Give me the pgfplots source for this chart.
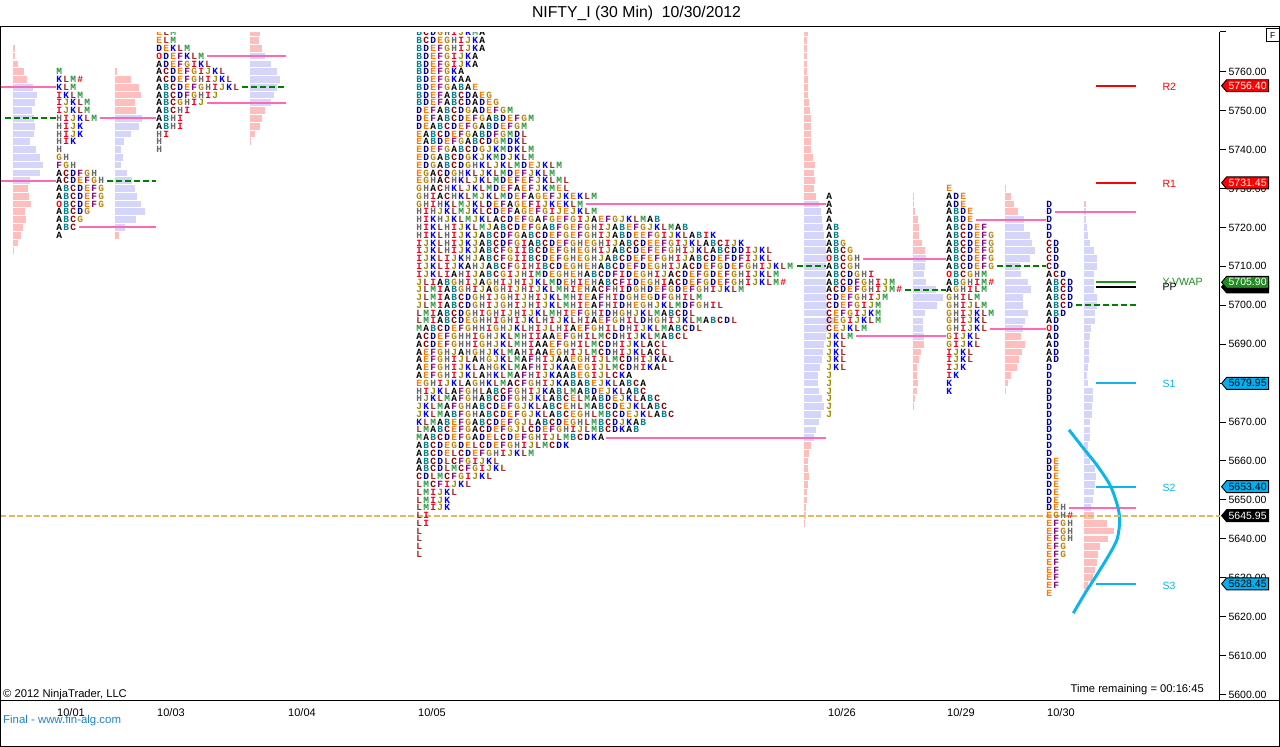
\documentclass[border=0pt]{standalone}
\usepackage{fontspec}
\setmainfont{Liberation Sans}
\newfontfamily\tpofont{Liberation Mono}
\usepackage{pgfplots}
\pgfplotsset{compat=1.18}
\usetikzlibrary{shapes.symbols}

% letter colours of the TPO rows
\definecolor{tpoA}{RGB}{0,0,0}
\definecolor{tpoB}{RGB}{0,128,138}
\definecolor{tpoC}{RGB}{139,0,0}
\definecolor{tpoD}{RGB}{0,0,139}
\definecolor{tpoE}{RGB}{245,120,0}
\definecolor{tpoF}{RGB}{128,0,128}
\definecolor{tpoG}{RGB}{184,134,11}
\definecolor{tpoH}{RGB}{105,105,105}
\definecolor{tpoI}{RGB}{240,0,30}
\definecolor{tpoJ}{RGB}{160,140,0}
\definecolor{tpoK}{RGB}{0,0,245}
\definecolor{tpoL}{RGB}{165,42,42}
\definecolor{tpoM}{RGB}{40,150,60}
\definecolor{tpoO}{RGB}{255,0,0}
\definecolor{pk}{RGB}{255,190,190}
\definecolor{lav}{RGB}{213,213,250}
\definecolor{hot}{RGB}{255,105,180}
\definecolor{grn}{RGB}{0,128,0}
\definecolor{gld}{RGB}{225,185,95}
\definecolor{cyn}{RGB}{15,180,235}
\definecolor{tagc}{RGB}{0,176,240}
\definecolor{taggr}{RGB}{34,139,34}

% X in the tables stands for the # mark
\newcommand\tpoch[1]{\ifx#1X\makebox[7pt]{\textcolor{red}{\#}}\else\makebox[7pt]{\textcolor{tpo#1}{#1}}\fi}
\def\tpoloop#1{\ifx#1\relax\else\tpoch{#1}\expandafter\tpoloop\fi}
\newcommand\tporow{\edef\tpotmp{\pgfplotspointmeta}\expandafter\tpoloop\tpotmp\relax}

\pgfplotsset{
  /pgfplots/table/tab/.style={y index=0,header=false,row sep=\\},
  prof/.style={draw=none,mark=none,error bars/.cd,x dir=plus,x explicit,error mark=none,
    error bar style={line width=6.7pt,color=#1,solid}},
  tpo/.style={draw=none,mark=none,point meta=explicit symbolic,nodes near coords={\tporow},
    every node near coord/.style={anchor=west,inner sep=0pt,outer sep=0pt,
      font=\tpofont\bfseries\fontsize{9.5}{10}\selectfont}},
  vah/.style={hot,line width=2pt,mark=none},
  poc/.style={grn,line width=2pt,mark=none,dash pattern=on 6pt off 3pt},
  lvl/.style={#1,line width=1.8pt,mark=none},
  tag/.style 2 args={draw=none,mark=none,point meta=y,
    nodes near coords={\pgfmathprintnumber[fixed,fixed zerofill,precision=2,1000 sep={},assume math mode=true]{\pgfplotspointmeta}},
    every node near coord/.style={shape=signal,signal to=west,signal pointer angle=100,draw=black,line width=0.9pt,
      fill=#1,text=#2,anchor=west,inner sep=0pt,minimum width=47pt,minimum height=12pt,
      font=\fontsize{10.5}{12}\selectfont}},
}

\begin{document}
\begin{tikzpicture}
\begin{axis}[
    at={(0pt,46pt)},anchor=south west,
    scale only axis,width=1219.5pt,height=669pt,
    xmin=0,xmax=1219.5,ymin=5598.35,ymax=5770.2,
    clip=false,
    axis y line=right,axis x line=bottom,axis line style={-,line width=1pt},
    xtick={71,171,302,432,842,961,1061},
    xticklabels={10/01,10/03,10/04,10/05,10/26,10/29,10/30},
    xtick style={draw=none},
    xticklabel style={font=\fontsize{11}{12}\selectfont,yshift=3pt},
    ytick={5600,5610,...,5760},
    ytick style={line width=1pt,black},
    tick align=outside,major tick length=6.5pt,
    scaled y ticks=false,
    yticklabel style={font=\fontsize{10.5}{12}\selectfont,xshift=-1pt,
      /pgf/number format/fixed,/pgf/number format/fixed zerofill,/pgf/number format/precision=2,
      /pgf/number format/1000 sep={},/pgf/number format/assume math mode=true},
    set layers=standard,
]
% volume bars: price, length
\addplot[prof=pk] table[x expr=13,tab,x error index=1]{5766 2\\5764 2\\5762 5\\5760 11\\5758 14\\5730 15\\5728 16\\5726 18\\5724 12\\5722 13\\5720 10\\5718 8\\5716 5\\5714 1\\};
\addplot[prof=lav] table[x expr=13,tab,x error index=1]{5756 20\\5754 24\\5752 22\\5750 19\\5748 21\\5746 22\\5744 21\\5742 17\\5740 23\\5738 27\\5736 30\\5734 27\\5732 17\\};
\addplot[prof=pk] table[x expr=115,tab,x error index=1]{5760 2\\5758 16\\5756 24\\5754 26\\5752 20\\5750 21\\5718 4\\};
\addplot[prof=lav] table[x expr=115,tab,x error index=1]{5748 27\\5746 24\\5744 16\\5742 9\\5740 6\\5738 8\\5736 6\\5734 12\\5732 17\\5730 20\\5728 22\\5726 26\\5724 30\\5722 21\\5720 10\\};
\addplot[prof=pk] table[x expr=250,tab,x error index=1]{5770 10\\5768 9\\5766 12\\5750 15\\5748 12\\5746 10\\5744 5\\5742 1\\};
\addplot[prof=lav] table[x expr=250,tab,x error index=1]{5764 15\\5762 21\\5760 27\\5758 30\\5756 27\\5754 24\\5752 21\\};
\addplot[prof=pk] table[x expr=804,tab,x error index=1]{5770 4\\5768 3\\5766 3\\5764 3\\5762 3\\5760 3\\5758 4\\5756 4\\5754 4\\5752 5\\5750 6\\5748 7\\5746 7\\5744 7\\5742 7\\5740 7\\5738 9\\5736 11\\5734 10\\5732 11\\5730 10\\5728 12\\5664 7\\5662 5\\5660 4\\5658 4\\5656 5\\5654 4\\5652 3\\5650 3\\5648 2\\5646 2\\5644 1\\};
\addplot[prof=lav] table[x expr=804,tab,x error index=1]{5726 15\\5724 17\\5722 18\\5720 19\\5718 20\\5716 22\\5714 22\\5712 23\\5710 22\\5708 22\\5706 22\\5704 22\\5702 22\\5700 23\\5698 23\\5696 30\\5694 23\\5692 22\\5690 20\\5688 19\\5686 18\\5684 16\\5682 14\\5680 14\\5678 15\\5676 18\\5674 20\\5672 17\\5670 15\\5668 12\\5666 10\\};
\addplot[prof=pk] table[x expr=913,tab,x error index=1]{5728 1\\5726 1\\5724 2\\5722 5\\5720 6\\5718 6\\5716 9\\5714 12\\5690 11\\5688 8\\5686 6\\5684 4\\5682 4\\5680 5\\5678 4\\5676 2\\5674 1\\};
\addplot[prof=lav] table[x expr=913,tab,x error index=1]{5712 13\\5710 12\\5708 11\\5706 13\\5704 23\\5702 30\\5700 24\\5698 12\\5696 10\\5694 10\\5692 11\\};
\addplot[prof=pk] table[x expr=1005,tab,x error index=1]{5730 1\\5728 6\\5726 9\\5724 13\\5692 16\\5690 20\\5688 17\\5686 14\\5684 12\\5682 6\\5680 3\\5678 1\\};
\addplot[prof=lav] table[x expr=1005,tab,x error index=1]{5722 19\\5720 19\\5718 25\\5716 27\\5714 30\\5712 25\\5710 15\\5708 16\\5706 23\\5704 26\\5702 18\\5700 18\\5698 23\\5696 20\\5694 18\\};
\addplot[prof=pk] table[x expr=1084,tab,x error index=1]{5726 2\\5646 10\\5644 23\\5642 30\\5640 24\\5638 16\\5636 14\\5634 13\\5632 11\\5630 9\\5628 4\\5626 1\\};
\addplot[prof=lav] table[x expr=1084,tab,x error index=1]{5724 2\\5722 2\\5720 3\\5718 4\\5716 6\\5714 10\\5712 13\\5710 13\\5708 10\\5706 10\\5704 10\\5702 13\\5700 13\\5698 11\\5696 11\\5694 7\\5692 6\\5690 5\\5688 5\\5686 5\\5684 4\\5682 3\\5680 4\\5678 9\\5676 9\\5674 8\\5672 8\\5670 6\\5668 6\\5666 6\\5664 4\\5662 4\\5660 6\\5658 11\\5656 12\\5654 11\\5652 10\\5650 9\\5648 7\\};

% TPO letters: price, row
\addplot[tpo] table[x expr=55.8,tab,meta index=1]{
5760 M\\5758 KLMX\\5756 KLM\\5754 IKLM\\5752 IJKLM\\5750 IJKLM\\5748 HIJKLM\\5746 HIJK\\5744 HIJK\\5742 HIK\\5740 H\\5738 GH\\5736 FGH\\5734 ACDFGH\\5732 ACDEFGH\\5730 ABCDEFG\\5728 ABCDEFG\\5726 OBCDEFG\\5724 ABCDG\\5722 ABCG\\5720 ABC\\5718 A\\};
\addplot[tpo] table[x expr=155.8,tab,meta index=1]{
5770 ELM\\5768 ELM\\5766 DEKLM\\5764 ODEFKLM\\5762 ADEFGIKL\\5760 ACDEFGIJKL\\5758 ACDEFGHIJKL\\5756 ABCDEFGHIJKL\\5754 ABCDFGHIJ\\5752 ABCGHIJ\\5750 ABCHI\\5748 ABHI\\5746 ABHI\\5744 HI\\5742 H\\5740 H\\};
\addplot[tpo] table[x expr=415.8,tab,meta index=1]{
5770 BCDGHIJKMA\\
5768 BCDEGHIJKA\\
5766 BDEFGHIJKA\\
5764 BDEFGIJKA\\
5762 BDEFGIJKA\\
5760 BDEFGKA\\
5758 BDEFGKAA\\
5756 BDEFGABAE\\
5754 BDEFABCDAEG\\
5752 BDEFABCDADEG\\
5750 DEFABCDGADEFGM\\
5748 DEFABCDEFGABDEFGM\\
5746 DEABCDEFGABDEFGM\\
5744 EABCDEFGABDFGMDL\\
5742 EABDEFGABCDGMDKL\\
5740 EDEFGABCDGJKMDKLM\\
5738 EDGABCDGKJKMDJKLM\\
5736 EDGABCDGHKLJKLMDEJKLM\\
5734 EGACDGHKLJKLMDEFJKLM\\
5732 EGHACHKLJKLMDEFEFJKLML\\
5730 GHACHKLJKLMDEFAEFJKMEL\\
5728 GHIACHKLMJKLMDEFAGEFJKEKLM\\
5726 GHIHKLMJKLDEFAGEFIJKEKLM\\
5724 HIHJKLMJKLCDEFAGEFGIJEJKLM\\
5722 HIKHJKLMJKLACDEFGAFGEFGIJAEFGJKLMAB\\
5720 HIKLHIJKLMJABCDEFGABFGEFGHIJABEFGJKLMAB\\
5718 HIKLHIJKJABCDFGABCDEFGEFGHIJABDEEFGIJKLABIK\\
5716 IJKLHIJKJABCDFGIABCDEFGHEGHIJABCDEEFGIJKLABCIJK\\
5714 IJKLHIJKJABCFGIIBCDEFGHEGHIJABCDEFEFGHIJKLABCDDIJKL\\
5712 IJKLIJKHJABCFGIIBCDEFGHEGHJABCDEFEFGHIJABCDEFDFIJKL\\
5710 IJKLIJKAHJABCFGIHIBCDEGHEHABCDEFDEGHIJACDEFGDEFGHIJKLM\\
5708 IJKLIAHIJABCGIJHIMDEGHEHABCDFIDEGHIJACDEFGDEFGHIJKLM\\
5706 JLIABGHIJAGHIJHIJKLMDEHIEHABCFIDEGHIACDEFGDEFGHIJKLMX\\
5704 JLMIABGHIJAGHIJHIJKLMHIEHACFHIDGHDEFGDEFGHIJKLM\\
5702 JLMIABCDGHIJGHIJHIJKLMHIEAFHIDGHEGDFGHILM\\
5700 JLMIABCDGHIJGHIJHIJKLMHIEAFHIDHEGHJKLMDFGHIL\\
5698 LMIABCDGHIGHIJHIJKLMHIEFGHIDHGHJKLMABCDL\\
5696 LMIABCDEGHHIGHIJKLHIJKLHIAEFGHILDHGHIJKLMABCDL\\
5694 MABCDEFGHHIGHJKLHIJLHIAEFGHILDHIJKLMABCDL\\
5692 ACDEFGHHIGHJKLMHIIAAEFGHILMCDHIJKLMABCL\\
5690 ACDEFGHHIGHJKLMHIAAEFGHILMCDHIJKLACL\\
5688 AEFGHJAHGHJKLMAHIAAEGHIJLMCDHIJKLACL\\
5686 AEFGHIJLAHGJKLMAFHIJAAEGHIJLMCDHIJKAL\\
5684 AEFGHIJKLAHGKLMAFHIJKAAEGIJLMCDHIKAL\\
5682 AEFGHIJKLAHKLMAFHIJKAABEGIJLCKA\\
5680 EGHIJKLAGHKLMACFGHIJKABABEJKLABCA\\
5678 HIJKLAFGHLABCFGHIJKABLMABDEJKLABC\\
5676 HJKLMAFGHABCDFGHJKLABCELMABDEJKLABC\\
5674 JKLMAFGHABCDEFGJKLABCEHLMABCDEJKLABC\\
5672 JKLMABFGHABCDEFGJKLABCEGHLMBCDEJKLABC\\
5670 KLMABEFGABCDEFGJLABCDEGHLMBCDJKAB\\
5668 LMABCEFGACDEFGJLCDEFGHIJLMBCDKAB\\
5666 MABCDEFGADELCDEFGHIJLMBCDKA\\
5664 ABCDEGDELCDEFGHIJLMCDK\\
5662 ABCDELCDEFGHIJKLM\\
5660 ABCDLCFGIJKL\\
5658 ABCDLMCFGIJKL\\
5656 CDLMCFGIJKL\\
5654 LMCFIJKL\\
5652 LMIJKL\\
5650 LMIJK\\
5648 LMIJK\\
5646 LI\\
5644 LI\\
5642 L\\
5640 L\\
5638 L\\
5636 L\\};
\addplot[tpo] table[x expr=825.8,tab,meta index=1]{
5728 A\\5726 A\\5724 A\\5722 A\\5720 AB\\5718 AB\\5716 ABG\\5714 ABCG\\5712 OBCGH\\5710 ABCGH\\5708 ABCDGHI\\5706 ABCDFGHIJM\\5704 ACDEFGHIJMX\\5702 CDEFGHIJM\\5700 CDEFGIJM\\5698 CEFGIJKM\\5696 CEGIJKLM\\5694 CEJKLM\\5692 JKLM\\5690 JKL\\5688 JKL\\5686 JKL\\5684 JKL\\5682 J\\5680 J\\5678 J\\5676 J\\5674 J\\5672 J\\};
\addplot[tpo] table[x expr=945.8,tab,meta index=1]{
5730 E\\5728 ADE\\5726 ADE\\5724 ABDE\\5722 ABDE\\5720 ABCDEF\\5718 ABCDEFG\\5716 ABCDEFG\\5714 ABCDEFG\\5712 ABCDEFG\\5710 ABCDEFG\\5708 OBCGHM\\5706 ABGHIMX\\5704 AGHILM\\5702 GHILM\\5700 GHIJLM\\5698 GHIJKLM\\5696 GHIJKL\\5694 GHIJKL\\5692 GIJKL\\5690 GIJKL\\5688 IJKL\\5686 IJKL\\5684 IJK\\5682 IK\\5680 K\\5678 K\\};
\addplot[tpo] table[x expr=1045.8,tab,meta index=1]{
5726 D\\5724 D\\5722 D\\5720 D\\5718 D\\5716 CD\\5714 CD\\5712 CD\\5710 CD\\5708 ACD\\5706 ABCD\\5704 ABCD\\5702 ABCD\\5700 ABCD\\5698 ABD\\5696 AD\\5694 OD\\5692 AD\\5690 AD\\5688 AD\\5686 AD\\5684 D\\5682 D\\5680 D\\5678 D\\5676 D\\5674 D\\5672 D\\5670 D\\5668 D\\5666 D\\5664 D\\5662 D\\5660 DE\\5658 DE\\5656 DE\\5654 DE\\5652 DE\\5650 DE\\5648 DEH\\5646 EGHX\\5644 EFGH\\5642 EFGH\\5640 EFGH\\5638 EFG\\5636 EFG\\5634 EF\\5632 EF\\5630 EF\\5628 EF\\5626 E\\};

% value area edges
\addplot[vah] coordinates {(0,5756) (56,5756)};
\addplot[vah] coordinates {(0,5732) (56,5732)};
\addplot[vah] coordinates {(100,5748) (156,5748)};
\addplot[vah] coordinates {(79,5720) (156,5720)};
\addplot[vah] coordinates {(207,5764) (286,5764)};
\addplot[vah] coordinates {(207,5752) (286,5752)};
\addplot[vah] coordinates {(586,5726) (826,5726)};
\addplot[vah] coordinates {(606,5666) (826,5666)};
\addplot[vah] coordinates {(863,5712) (946,5712)};
\addplot[vah] coordinates {(856,5692) (946,5692)};
\addplot[vah] coordinates {(976,5722) (1046,5722)};
\addplot[vah] coordinates {(990,5694) (1046,5694)};
\addplot[vah] coordinates {(1055,5724) (1136,5724)};
\addplot[vah] coordinates {(1069,5648) (1136,5648)};
% point of control
\addplot[poc] coordinates {(5,5748) (56,5748)};
\addplot[poc] coordinates {(107,5732) (156,5732)};
\addplot[poc] coordinates {(242,5756) (286,5756)};
\addplot[poc] coordinates {(797,5710) (826,5710)};
\addplot[poc] coordinates {(905,5704) (946,5704)};
\addplot[poc] coordinates {(997,5710) (1046,5710)};
\addplot[poc] coordinates {(1076,5700) (1136,5700)};
% pivots
\addplot[lvl=red] coordinates {(1096,5756.40) (1136,5756.40)};
\addplot[lvl=red] coordinates {(1096,5731.45) (1136,5731.45)};
\addplot[lvl=taggr] coordinates {(1096,5705.90) (1136,5705.90)};
\addplot[lvl=black] coordinates {(1096,5704.75) (1136,5704.75)};
\addplot[lvl=cyn] coordinates {(1096,5679.95) (1136,5679.95)};
\addplot[lvl=cyn] coordinates {(1096,5653.40) (1136,5653.40)};
\addplot[lvl=cyn] coordinates {(1096,5628.45) (1136,5628.45)};
% parabola
\addplot[cyn,line width=3pt,smooth,mark=none] coordinates {(1069,5668) (1083.3,5663.3) (1096.7,5659) (1110,5653.8) (1117.3,5648.7) (1119.7,5644.8) (1117.3,5640.1) (1110,5636.3) (1096.7,5630.7) (1085,5626) (1073.3,5620.9)};
% last price
\addplot[gld,line width=2pt,mark=none,dash pattern=on 6pt off 2.5pt] coordinates {(0,5645.95) (1220,5645.95)};

\node[anchor=west,red,font=\fontsize{10.5}{12}\selectfont] at (axis cs:1159,5756.2) {R2};
\node[anchor=west,red,font=\fontsize{10.5}{12}\selectfont] at (axis cs:1159,5731.2) {R1};
\node[anchor=west,taggr,font=\fontsize{10.5}{12}\selectfont] at (axis cs:1159,5705.9) {Y-VWAP};
\node[anchor=west,black,font=\fontsize{10.5}{12}\selectfont] at (axis cs:1159,5704.6) {PP};
\node[anchor=west,cyn,font=\fontsize{10.5}{12}\selectfont] at (axis cs:1159,5679.8) {S1};
\node[anchor=west,cyn,font=\fontsize{10.5}{12}\selectfont] at (axis cs:1159,5653.0) {S2};
\node[anchor=west,cyn,font=\fontsize{10.5}{12}\selectfont] at (axis cs:1159,5628.0) {S3};

% price tags
\addplot[tag={red}{white}] coordinates {(1221,5756.40)};
\addplot[tag={red}{white}] coordinates {(1221,5731.45)};
\addplot[tag={black}{black}] coordinates {(1221,5704.70)};
\addplot[tag={taggr}{white}] coordinates {(1221,5705.90)};
\addplot[tag={tagc}{black}] coordinates {(1221,5679.95)};
\addplot[tag={tagc}{black}] coordinates {(1221,5653.40)};
\addplot[tag={tagc}{black}] coordinates {(1221,5628.45)};
\addplot[tag={black}{white}] coordinates {(1221,5645.95)};
\end{axis}
% strip above the price scale and the window frame
\fill[white] (0pt,715pt) rectangle (1219pt,720pt);
\draw[line width=1pt] (1219.5pt,715pt) -- (1226pt,715pt);
\draw[line width=1pt] (0.5pt,0.5pt) rectangle (1279.5pt,720pt);
\draw[line width=1pt] (0.5pt,46pt) -- (1279.5pt,46pt);
\draw[line width=1pt,fill=white] (1266.5pt,705.5pt) rectangle (1279pt,718pt);
\node[font=\fontsize{8.5}{10}\selectfont] at (1272.7pt,711.7pt) {F};
\node[font=\fontsize{15.8}{18}\selectfont] at (636.5pt,734pt) {NIFTY\_I (30 Min)\ \ 10/30/2012};
\node[anchor=west,inner sep=0pt,font=\fontsize{11.2}{13}\selectfont] at (3pt,52pt) {© 2012 NinjaTrader, LLC};
\node[anchor=east,inner sep=0pt,font=\fontsize{11.2}{13}\selectfont] at (1204pt,57pt) {Time remaining = 00:16:45};
\node[anchor=west,inner sep=0pt,text={rgb,255:red,30;green,130;blue,200},font=\fontsize{11.4}{13}\selectfont] at (3pt,26pt) {Final - www.fin-alg.com};
\pgfresetboundingbox
\path[use as bounding box] (0pt,0pt) rectangle (1280pt,747pt);
\end{tikzpicture}
\end{document}
